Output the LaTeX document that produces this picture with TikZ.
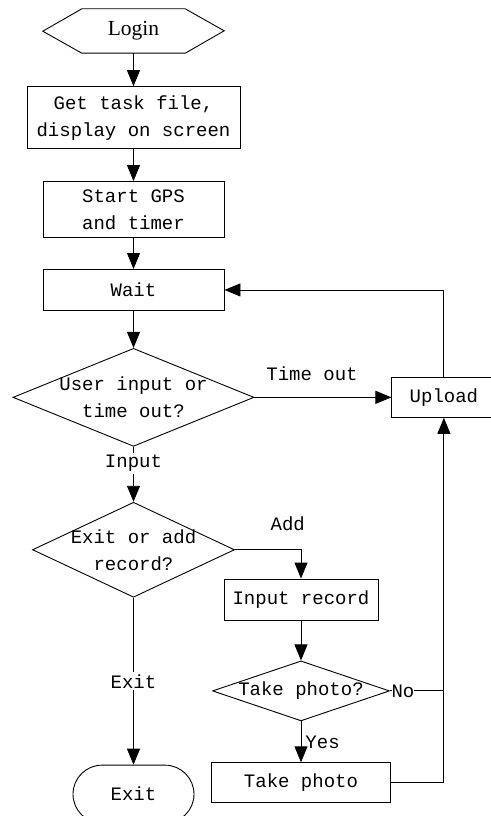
\documentclass[tikz,border=0pt]{standalone}
\usepackage{fontspec}
\setmainfont{Liberation Serif}
\setmonofont{Liberation Mono}
\usetikzlibrary{shapes,arrows.meta}
\usetikzlibrary{positioning}

\begin{document}
\begin{tikzpicture}[x=1pt, y=-1pt,
    font=\ttfamily\fontsize{19}{27}\selectfont,
    line/.style={draw, line width=0.9pt},
    arrow/.style={line, -{Triangle[length=16pt,width=13pt]}},
    process/.style={draw, line width=0.9pt, rectangle, inner sep=0pt, align=center, minimum width=181pt},
    decision/.style={draw, line width=0.9pt, diamond, inner sep=0pt},
    terminal/.style={draw, line width=0.9pt, rounded rectangle, inner sep=0pt, minimum width=121pt, minimum height=58pt},
    tag/.style={inner sep=0pt}]

    \useasboundingbox (0,0) rectangle (490,816);

    % main column
    \node[inner sep=0pt, minimum width=103pt, minimum height=44pt, font=\rmfamily\fontsize{21.5}{26}\selectfont] (login) at (133.5,31) {Login};
    \draw[line] (login.north west) -- (login.north east) -- ++(39,22) -- (login.south east) -- (login.south west) -- ++(-39,-22) -- cycle;
    \node[process, minimum width=213pt, minimum height=62pt, below=33pt of login] (task) {Get task file,\\display on screen};
    \node[process, minimum height=56pt, below=32pt of task] (gps) {Start GPS\\and timer};
    \node[process, minimum height=41pt, below=31pt of gps] (wait) {Wait};
    \node[decision, minimum width=241pt, minimum height=98pt, below=37pt of wait] (choice) {};
    \node[align=center] (choicetext) at (choice) {User input or\\time out?};
    \node[process, minimum width=104pt, minimum height=40pt, right=137pt of choice] (upload) {Upload};
    \node[decision, minimum width=202pt, minimum height=95pt, below=55pt of choice] (branch) {};
    \node[align=center] (branchtext) at (branch) {Exit or add\\record?};
    \node[terminal, below=167pt of branch] (exit) {Exit};

    % record branch
    \node[process, minimum width=154pt, minimum height=41pt] (record) at (301,599.5) {Input record};
    \node[decision, minimum width=177pt, minimum height=60pt, below=40pt of record] (photo) {};
    \node (phototext) at (photo) {Take photo?};
    \node[process, minimum width=179pt, minimum height=40pt, below=41pt of photo] (shot) {Take photo};
    \coordinate (join) at (upload.south |- photo.east);

    \draw[arrow] (login.south) -- (task.north);
    \draw[arrow] (task.south) -- (gps.north);
    \draw[arrow] (gps.south) -- (wait.north);
    \draw[arrow] (wait.south) -- (choice.north);
    \draw[arrow] (choice.east) -- node[tag, pos=.42, above=16pt] (timeout) {Time out} (upload.west);
    \draw[arrow] (upload.north) |- (wait.east);
    \draw[arrow] (choice.south) -- node[tag, fill=white, inner sep=2pt, pos=.3] (input) {Input} (branch.north);
    \draw[arrow] (branch.east) -| node[tag, pos=.4, above=19pt] (add) {Add} (record.north);
    \draw[arrow] (branch.south) -- node[tag, fill=white, inner sep=2pt] (quit) {Exit} (exit.north);
    \draw[arrow] (record.south) -- (photo.north);
    \draw[arrow] (photo.south) -- node[tag, right=4pt] (yes) {Yes} (shot.north);
    \draw[line] (photo.east) -- node[tag, fill=white, pos=.24] (no) {No} (join);
    \draw[arrow] (shot.east) -| (upload.south);
\end{tikzpicture}
\end{document}
